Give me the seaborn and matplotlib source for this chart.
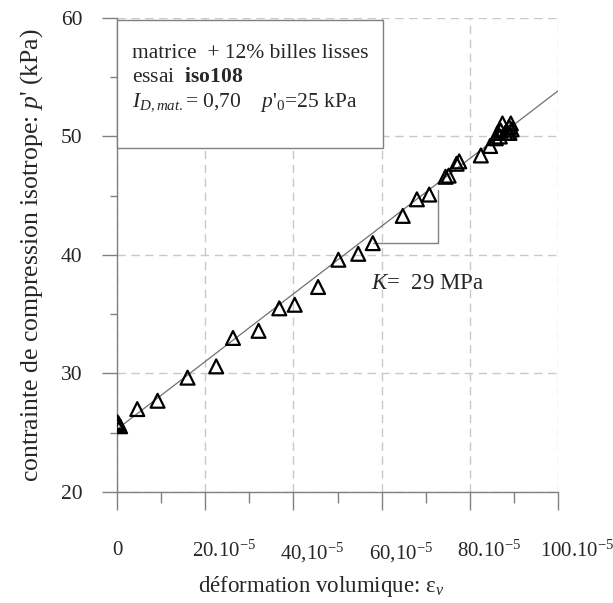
import matplotlib
matplotlib.use("Agg")
import matplotlib.pyplot as plt
import matplotlib.transforms as mtransforms
from matplotlib.patches import Rectangle
import seaborn as sns
import pandas as pd

# ---- data (strain in units of 1e-5, stress in kPa) ----
eps_v = [0.0, 0.0, 0.3, 0.7, 4.6, 9.2, 16.0, 22.5, 26.3, 32.1, 36.8, 40.3, 45.6,
         50.2, 54.7, 58.0, 64.8, 68.0, 70.8, 74.5, 75.2, 77.0, 77.6, 82.5, 84.6,
         85.9, 86.3, 86.8, 87.0, 87.4, 88.0, 88.6, 88.9, 89.0, 89.3, 89.5]
p_prime = [25.9, 25.65, 25.8, 25.55, 27.0, 27.7, 29.65, 30.6, 33.0, 33.6, 35.5, 35.8, 37.3,
           39.6, 40.1, 41.0, 43.3, 44.7, 45.1, 46.6, 46.7, 47.7, 47.9, 48.4, 49.2,
           49.85, 50.3, 50.0, 50.5, 51.1, 50.3, 50.3, 50.8, 50.3, 51.1, 50.6]
fit_x = [0.0, 100.0]
fit_y = [25.3, 53.85]
k_x = [58.0, 72.7, 72.7]
k_y = [41.0, 41.0, 45.5]
x_ticks = [0, 20, 40, 60, 80, 100]
x_ticklabels = ["0", r"20.10$^{-5}$", r"40,10$^{-5}$", r"60,10$^{-5}$", r"80.10$^{-5}$", r"100.10$^{-5}$"]
y_ticks = [20, 30, 40, 50, 60]

df = pd.DataFrame({"eps": eps_v, "p": p_prime})
fit = pd.DataFrame({"x": fit_x, "y": fit_y})

sns.set_style("white")
plt.rcParams["font.family"] = ["Liberation Serif", "DejaVu Serif"]
plt.rcParams["mathtext.fontset"] = "custom"
plt.rcParams["mathtext.rm"] = "Liberation Serif"
plt.rcParams["mathtext.it"] = "Liberation Serif:italic"
plt.rcParams["mathtext.bf"] = "Liberation Serif:bold"

fig = plt.figure(figsize=(6.13, 6.03), dpi=100)
ax = fig.add_axes([117/613, 1-492/603, 441/613, 474/603])

gray = "#808080"
ax.set_xlim(0, 100)
ax.set_ylim(20, 60)

sns.lineplot(data=fit, x="x", y="y", ax=ax, color="#707070", lw=0.9, zorder=2)
sns.scatterplot(data=df, x="eps", y="p", ax=ax, marker="^", s=100,
                facecolor="none", edgecolor="black", linewidth=1.6, zorder=4)
ax.plot(k_x, k_y, color=gray, lw=1.0, zorder=2)

ax.set_xticks(x_ticks)
ax.set_xticklabels(x_ticklabels)
ax.set_xticks([10, 30, 50, 70, 90], minor=True)
ax.set_yticks(y_ticks)
ax.set_yticks([25, 35, 45, 55], minor=True)

ax.grid(True, which="major", color="#c8c8c8", linestyle=(0, (6, 4)), lw=1.0)
ax.set_axisbelow(True)
for s in ["top", "right"]:
    ax.spines[s].set_visible(False)
for s in ["left", "bottom"]:
    ax.spines[s].set_color(gray)
    ax.spines[s].set_linewidth(1.0)

ax.tick_params(axis="x", which="major", direction="out", length=13, width=1, color=gray,
               labelsize=15, pad=22)
ax.tick_params(axis="x", which="minor", direction="out", length=8, width=1, color=gray)
ax.tick_params(axis="y", which="major", direction="out", length=11, width=1, color=gray,
               labelsize=15.5, pad=14)
ax.tick_params(axis="y", which="minor", direction="out", length=5, width=1, color=gray)
ax.xaxis.set_ticks_position("bottom")
ax.yaxis.set_ticks_position("left")

offset = mtransforms.ScaledTranslation(0.19, 0, fig.dpi_scale_trans)
for lab in ax.get_xticklabels()[1:]:
    lab.set_transform(lab.get_transform() + offset)

ax.set_xlabel(r"déformation volumique: ε$_{\mathit{v}}$", fontsize=16.5, labelpad=7)
ax.xaxis.label.set_x((321 - 117) / 441)
ax.set_ylabel(r"contrainte de compression isotrope: $p$' (kPa)", fontsize=18.5, labelpad=11)

# info box
ax.add_patch(Rectangle((0.0, (492-148)/474), (383-117)/441, (148-20)/474,
                       transform=ax.transAxes, facecolor="white", edgecolor=gray,
                       lw=1.0, zorder=5, clip_on=False))
tx = (132-117)/441
ax.text(tx, (492-53)/474, "matrice  + 12% billes lisses", transform=ax.transAxes,
        fontsize=15.5, va="center", ha="left", zorder=6)
ax.text(tx, (492-78)/474, r"essai  $\mathbf{iso108}$", transform=ax.transAxes,
        fontsize=15.5, va="center", ha="left", zorder=6)
ax.text(tx, (492-103)/474, r"$I_{D,mat.}$= 0,70    $p$'$_{\mathit{0}}$=25 kPa",
        transform=ax.transAxes, fontsize=15.5, va="center", ha="left", zorder=6)

ax.text(57.5, 37.6, r"$K$=  29 MPa", fontsize=16.5, va="center", ha="left", zorder=6)

fig.savefig("out.png", dpi=100)
